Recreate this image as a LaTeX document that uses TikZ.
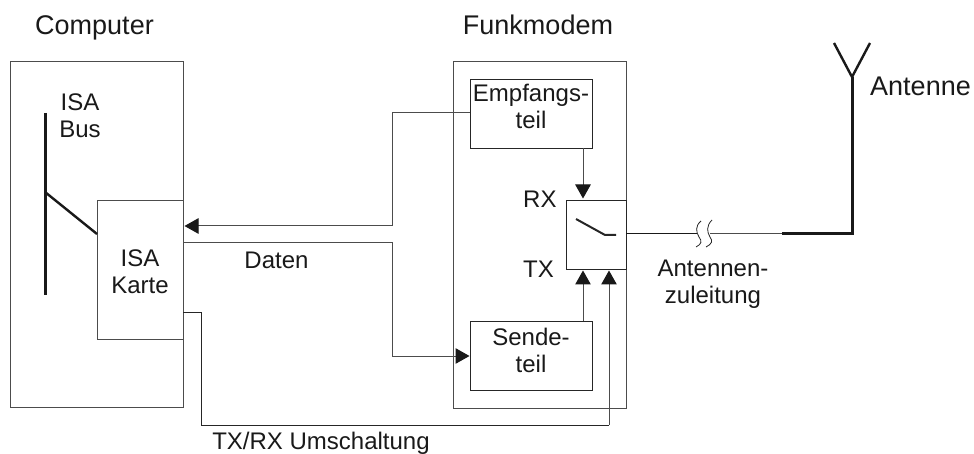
\documentclass[tikz,border=0pt]{standalone}
\usepackage{fontspec}
\setmainfont{Liberation Sans}
\usetikzlibrary{arrows.meta,positioning}
\tikzset{
  x=1pt,y=-1pt,
  boxa/.style={draw=black!70,line width=1pt,inner sep=0pt,anchor=north west},
  lbl/.style={inner sep=0pt,anchor=base,font=\fontsize{24}{27}\selectfont,align=center,text=black!90},
  big/.style={lbl,font=\fontsize{27}{30}\selectfont},
  wire/.style={draw=black!70,line width=1pt},
  arr/.style={wire,-{Triangle[length=14pt,width=15.5pt,fill=black!90,color=black!90]}},
  thick wire/.style={draw=black!90,line width=3pt}
}
\begin{document}
\begin{tikzpicture}
\useasboundingbox (0,0) rectangle (974,454);
% boxes
\node[boxa,minimum width=173pt,minimum height=346pt] (comp) at (10,61) {};
\node[boxa,minimum width=86pt,minimum height=139pt,fill=white] (karte) at (97,200) {};
\node[boxa,minimum width=173pt,minimum height=347pt] (funk) at (453,61) {};
\node[boxa,minimum width=122pt,minimum height=69pt,draw=black!85] (empf) at (470,79) {};
\node[boxa,minimum width=122pt,minimum height=69pt,draw=black!85] (send) at (470,321) {};
\node[boxa,minimum width=60pt,minimum height=69pt,draw=black!85] (sw) at (566,200) {};
% labels
\node[big] (tcomp) at (94.5,35) {Computer};
\node[big] (tfunk) at (538,35) {Funkmodem};
\node[big] (tant) at (920.5,96) {Antenne};
\node[lbl] (tbus) at (80,138) {ISA\\Bus};
\node[lbl] (tkarte) at (140,294) {ISA\\Karte};
\node[lbl] (tempf) at (531,129) {Empfangs-\\teil};
\node[lbl] (tsend) at (531,372) {Sende-\\teil};
\node[lbl,anchor=base west] (trx) at (523,208) {RX};
\node[lbl,anchor=base west] (ttx) at (523,277) {TX};
\node[lbl] (tdaten) at (276.5,269) {Daten};
\node[lbl] (tzul) at (713,303) {Antennen-\\zuleitung};
\node[lbl] (tum) at (321,449) {TX/RX Umschaltung};
% coordinates
\coordinate (busT) at (45,113);
\coordinate (busB) at (45,295);
\coordinate (busJ) at (45,192);
\coordinate (kL) at (97,234);
\coordinate (e1) at (392,113);
\coordinate (e2) at (392,226);
\coordinate (kR) at (184.5,226);
\coordinate (d0) at (183,243);
\coordinate (d1) at (392,243);
\coordinate (d2) at (392,356);
\coordinate (sL) at (469.5,356);
\coordinate (eB) at (583,148);
\coordinate (swT) at (583,198.5);
\coordinate (sT) at (583,321);
\coordinate (swB) at (583,270.5);
\coordinate (c0) at (183,312);
\coordinate (c1) at (201,312);
\coordinate (c2) at (201,425);
\coordinate (c3) at (609,425);
\coordinate (swB2) at (609,270.5);
\coordinate (swR) at (626,234);
\coordinate (br1) at (697,234);
\coordinate (br2) at (710,234);
\coordinate (tk0) at (782,234);
\coordinate (tk1) at (852,234);
\coordinate (ant) at (852,77);
\coordinate (antL) at (834,43);
\coordinate (antR) at (870,43);
% connectors
\draw[thick wire] (busT) -- (busB);
\draw[draw=black!90,line width=2.4pt] (busJ) -- (kL);
\draw[arr] (empf.west |- e1) -- (e1) -- (e2) -- (kR);
\draw[arr] (d0) -- (d1) -- (d2) -- (sL);
\draw[arr] (eB) -- (swT);
\draw[arr] (sT) -- (swB);
\draw[wire,draw=black!85] (c0) -- (c1) -- (c2) -- (c3);
\draw[arr] (c3) -- (swB2);
% switch symbol
\coordinate (a1) at (576,219);
\coordinate (a2) at (605,235);
\coordinate (a3) at (616,235);
\draw[draw=black!85,line width=2pt] (a1) -- (a2) -- (a3);
% antenna feed with break
\draw[draw=black!90,line width=1pt] (swR) -- (br1);
\draw[draw=black!70,line width=1pt] (br2) -- (tk0);
\draw[draw=black!85,line width=0.8pt] (701,221) .. controls (695,226) and (696,232) .. (699,237) .. controls (702,241) and (702,244) .. (696,247);
\draw[draw=black!85,line width=0.8pt] (712,220) .. controls (706,226) and (707,232) .. (710,237) .. controls (713,241) and (712,244) .. (706,247);
\draw[thick wire,line join=miter] (tk0) -- (tk1) -- (ant);
\draw[draw=black!90,line width=2.4pt] (antL) -- (ant) -- (antR);
\end{tikzpicture}
\end{document}
